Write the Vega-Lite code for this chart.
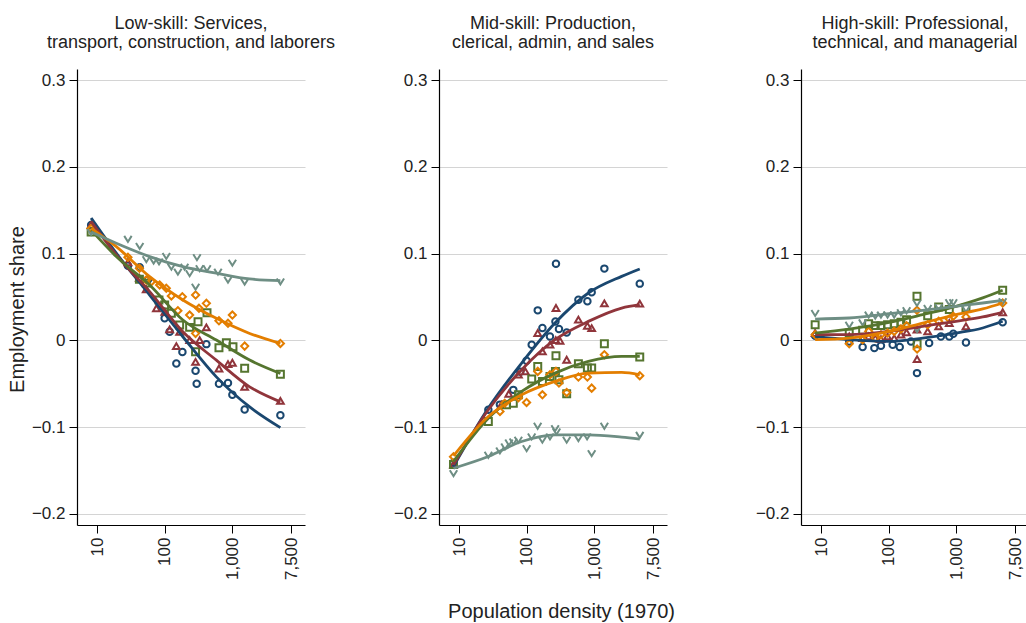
{
  "$schema": "https://vega.github.io/schema/vega-lite/v6.json",
  "padding": {"left": 7, "top": 15, "right": 5, "bottom": 2},
  "background": "white",
  "bounds": "flush",
  "spacing": 134,
  "datasets": {
    "pts": [
      {"p":1,"s":"s1","x":8.1,"y":0.133},{"p":1,"s":"s1","x":28.4,"y":0.086},{"p":1,"s":"s1","x":42.4,"y":0.0843},{"p":1,"s":"s1","x":56,"y":0.07},{"p":1,"s":"s1","x":99.3,"y":0.0254},{"p":1,"s":"s1","x":117.8,"y":0.0099},{"p":1,"s":"s1","x":148,"y":-0.0266},{"p":1,"s":"s1","x":182,"y":-0.0135},{"p":1,"s":"s1","x":285,"y":-0.035},{"p":1,"s":"s1","x":296,"y":-0.05},{"p":1,"s":"s1","x":412,"y":-0.0043},{"p":1,"s":"s1","x":633,"y":-0.05},{"p":1,"s":"s1","x":861,"y":-0.049},{"p":1,"s":"s1","x":1000,"y":-0.0626},{"p":1,"s":"s1","x":1520,"y":-0.0797},{"p":1,"s":"s1","x":5140,"y":-0.0862},
      {"p":1,"s":"s2","x":8.1,"y":0.133},{"p":1,"s":"s2","x":28.4,"y":0.09},{"p":1,"s":"s2","x":42,"y":0.072},{"p":1,"s":"s2","x":53,"y":0.0589},{"p":1,"s":"s2","x":75,"y":0.037},{"p":1,"s":"s2","x":100,"y":0.033},{"p":1,"s":"s2","x":117.8,"y":0.0127},{"p":1,"s":"s2","x":148,"y":-0.0066},{"p":1,"s":"s2","x":165.6,"y":0.0099},{"p":1,"s":"s2","x":232.8,"y":0.0003},{"p":1,"s":"s2","x":285,"y":-0.0247},{"p":1,"s":"s2","x":328,"y":0.0003},{"p":1,"s":"s2","x":412,"y":0.015},{"p":1,"s":"s2","x":633,"y":-0.0324},{"p":1,"s":"s2","x":861,"y":-0.0274},{"p":1,"s":"s2","x":1000,"y":-0.0258},{"p":1,"s":"s2","x":1520,"y":-0.0535},{"p":1,"s":"s2","x":5140,"y":-0.0697},
      {"p":1,"s":"s3","x":8.1,"y":0.125},{"p":1,"s":"s3","x":42,"y":0.0704},{"p":1,"s":"s3","x":53,"y":0.066},{"p":1,"s":"s3","x":81.8,"y":0.0465},{"p":1,"s":"s3","x":99.3,"y":0.0408},{"p":1,"s":"s3","x":124.8,"y":0.0312},{"p":1,"s":"s3","x":165.6,"y":0.0177},{"p":1,"s":"s3","x":232.8,"y":0.015},{"p":1,"s":"s3","x":285,"y":-0.0131},{"p":1,"s":"s3","x":310,"y":0.0215},{"p":1,"s":"s3","x":421,"y":0.0319},{"p":1,"s":"s3","x":633,"y":-0.0085},{"p":1,"s":"s3","x":815,"y":-0.0028},{"p":1,"s":"s3","x":1021,"y":-0.0074},{"p":1,"s":"s3","x":1520,"y":-0.032},{"p":1,"s":"s3","x":5140,"y":-0.0389},
      {"p":1,"s":"s4","x":8.1,"y":0.129},{"p":1,"s":"s4","x":28.4,"y":0.0958},{"p":1,"s":"s4","x":42,"y":0.083},{"p":1,"s":"s4","x":53,"y":0.0696},{"p":1,"s":"s4","x":63.1,"y":0.0677},{"p":1,"s":"s4","x":83.8,"y":0.0639},{"p":1,"s":"s4","x":105,"y":0.06},{"p":1,"s":"s4","x":124.8,"y":0.0512},{"p":1,"s":"s4","x":156,"y":0.0342},{"p":1,"s":"s4","x":181.5,"y":0.0503},{"p":1,"s":"s4","x":232.8,"y":0.0292},{"p":1,"s":"s4","x":285.5,"y":0.0523},{"p":1,"s":"s4","x":285,"y":0.0081},{"p":1,"s":"s4","x":320,"y":0.037},{"p":1,"s":"s4","x":412,"y":0.0427},{"p":1,"s":"s4","x":633,"y":0.0226},{"p":1,"s":"s4","x":861,"y":0.0197},{"p":1,"s":"s4","x":1000,"y":0.0292},{"p":1,"s":"s4","x":1520,"y":-0.0066},{"p":1,"s":"s4","x":5140,"y":-0.0035},
      {"p":1,"s":"s5","x":8.1,"y":0.125},{"p":1,"s":"s5","x":28.4,"y":0.117},{"p":1,"s":"s5","x":42.4,"y":0.1089},{"p":1,"s":"s5","x":53.2,"y":0.0935},{"p":1,"s":"s5","x":68.2,"y":0.0919},{"p":1,"s":"s5","x":82,"y":0.091},{"p":1,"s":"s5","x":105,"y":0.0973},{"p":1,"s":"s5","x":125,"y":0.085},{"p":1,"s":"s5","x":156,"y":0.0792},{"p":1,"s":"s5","x":196,"y":0.085},{"p":1,"s":"s5","x":232.8,"y":0.0774},{"p":1,"s":"s5","x":299,"y":0.0958},{"p":1,"s":"s5","x":285,"y":0.0619},{"p":1,"s":"s5","x":328,"y":0.0831},{"p":1,"s":"s5","x":421,"y":0.0831},{"p":1,"s":"s5","x":612,"y":0.0792},{"p":1,"s":"s5","x":861,"y":0.07},{"p":1,"s":"s5","x":1000,"y":0.0896},{"p":1,"s":"s5","x":1520,"y":0.0677},{"p":1,"s":"s5","x":5140,"y":0.068},

      {"p":2,"s":"s1","x":8.2,"y":-0.141},{"p":2,"s":"s1","x":26.9,"y":-0.08},{"p":2,"s":"s1","x":39.9,"y":-0.074},{"p":2,"s":"s1","x":63,"y":-0.057},{"p":2,"s":"s1","x":80,"y":-0.036},{"p":2,"s":"s1","x":99,"y":-0.0235},{"p":2,"s":"s1","x":118,"y":-0.0049},{"p":2,"s":"s1","x":145,"y":0.0346},{"p":2,"s":"s1","x":170,"y":0.0143},{"p":2,"s":"s1","x":220,"y":0.0046},{"p":2,"s":"s1","x":265,"y":0.0219},{"p":2,"s":"s1","x":270,"y":0.0884},{"p":2,"s":"s1","x":299,"y":0.0131},{"p":2,"s":"s1","x":389,"y":0.0092},{"p":2,"s":"s1","x":580,"y":0.0469},{"p":2,"s":"s1","x":788,"y":0.045},{"p":2,"s":"s1","x":912,"y":0.0554},{"p":2,"s":"s1","x":1406,"y":0.0827},{"p":2,"s":"s1","x":4700,"y":0.0654},
      {"p":2,"s":"s2","x":8.2,"y":-0.143},{"p":2,"s":"s2","x":42,"y":-0.074},{"p":2,"s":"s2","x":54,"y":-0.0615},{"p":2,"s":"s2","x":75,"y":-0.0395},{"p":2,"s":"s2","x":95,"y":-0.0357},{"p":2,"s":"s2","x":145,"y":0.0085},{"p":2,"s":"s2","x":170,"y":-0.0127},{"p":2,"s":"s2","x":220,"y":-0.0049},{"p":2,"s":"s2","x":270,"y":0.0373},{"p":2,"s":"s2","x":268,"y":0.0004},{"p":2,"s":"s2","x":310,"y":-0.0004},{"p":2,"s":"s2","x":389,"y":-0.0223},{"p":2,"s":"s2","x":580,"y":0.0239},{"p":2,"s":"s2","x":788,"y":0.0169},{"p":2,"s":"s2","x":912,"y":0.0142},{"p":2,"s":"s2","x":1406,"y":0.0427},{"p":2,"s":"s2","x":4700,"y":0.0423},
      {"p":2,"s":"s3","x":8.2,"y":-0.143},{"p":2,"s":"s3","x":26.9,"y":-0.0934},{"p":2,"s":"s3","x":50,"y":-0.0742},{"p":2,"s":"s3","x":63,"y":-0.0723},{"p":2,"s":"s3","x":75,"y":-0.0627},{"p":2,"s":"s3","x":118,"y":-0.0446},{"p":2,"s":"s3","x":145,"y":-0.03},{"p":2,"s":"s3","x":170,"y":-0.0473},{"p":2,"s":"s3","x":220,"y":-0.0415},{"p":2,"s":"s3","x":265,"y":-0.0357},{"p":2,"s":"s3","x":270,"y":-0.0177},{"p":2,"s":"s3","x":299,"y":-0.0454},{"p":2,"s":"s3","x":389,"y":-0.0615},{"p":2,"s":"s3","x":580,"y":-0.0269},{"p":2,"s":"s3","x":788,"y":-0.0319},{"p":2,"s":"s3","x":912,"y":-0.0319},{"p":2,"s":"s3","x":1406,"y":-0.0038},{"p":2,"s":"s3","x":4700,"y":-0.0192},
      {"p":2,"s":"s4","x":8.2,"y":-0.134},{"p":2,"s":"s4","x":40,"y":-0.0818},{"p":2,"s":"s4","x":47,"y":-0.0723},{"p":2,"s":"s4","x":75,"y":-0.066},{"p":2,"s":"s4","x":99,"y":-0.0715},{"p":2,"s":"s4","x":145,"y":-0.0357},{"p":2,"s":"s4","x":170,"y":-0.0627},{"p":2,"s":"s4","x":220,"y":-0.0396},{"p":2,"s":"s4","x":270,"y":-0.0357},{"p":2,"s":"s4","x":299,"y":-0.0492},{"p":2,"s":"s4","x":389,"y":-0.06},{"p":2,"s":"s4","x":580,"y":-0.0423},{"p":2,"s":"s4","x":788,"y":-0.0423},{"p":2,"s":"s4","x":912,"y":-0.055},{"p":2,"s":"s4","x":1406,"y":-0.0165},{"p":2,"s":"s4","x":4700,"y":-0.0407},
      {"p":2,"s":"s5","x":8.2,"y":-0.153},{"p":2,"s":"s5","x":26.9,"y":-0.1318},{"p":2,"s":"s5","x":39.9,"y":-0.1268},{"p":2,"s":"s5","x":47.4,"y":-0.1222},{"p":2,"s":"s5","x":54.3,"y":-0.1176},{"p":2,"s":"s5","x":63.1,"y":-0.1165},{"p":2,"s":"s5","x":74.8,"y":-0.1145},{"p":2,"s":"s5","x":99.3,"y":-0.1242},{"p":2,"s":"s5","x":117.8,"y":-0.1107},{"p":2,"s":"s5","x":144.5,"y":-0.0984},{"p":2,"s":"s5","x":169.7,"y":-0.1145},{"p":2,"s":"s5","x":220,"y":-0.1107},{"p":2,"s":"s5","x":262,"y":-0.1011},{"p":2,"s":"s5","x":275,"y":-0.1049},{"p":2,"s":"s5","x":389,"y":-0.1145},{"p":2,"s":"s5","x":580,"y":-0.1126},{"p":2,"s":"s5","x":780,"y":-0.1107},{"p":2,"s":"s5","x":912,"y":-0.1299},{"p":2,"s":"s5","x":1406,"y":-0.0984},{"p":2,"s":"s5","x":4700,"y":-0.1088},

      {"p":3,"s":"s1","x":8.1,"y":0.0054},{"p":3,"s":"s1","x":25.9,"y":-0.0012},{"p":3,"s":"s1","x":40.9,"y":-0.0077},{"p":3,"s":"s1","x":61,"y":-0.0089},{"p":3,"s":"s1","x":76.4,"y":-0.0062},{"p":3,"s":"s1","x":114,"y":-0.005},{"p":3,"s":"s1","x":145,"y":-0.0077},{"p":3,"s":"s1","x":213,"y":-0.0012},{"p":3,"s":"s1","x":261,"y":-0.0377},{"p":3,"s":"s1","x":395,"y":-0.0031},{"p":3,"s":"s1","x":590,"y":0.0046},{"p":3,"s":"s1","x":785,"y":0.0046},{"p":3,"s":"s1","x":900,"y":0.0077},{"p":3,"s":"s1","x":1387,"y":-0.0023},{"p":3,"s":"s1","x":4850,"y":0.0208},
      {"p":3,"s":"s2","x":8.1,"y":0.0085},{"p":3,"s":"s2","x":25.9,"y":0.0046},{"p":3,"s":"s2","x":40.9,"y":0.0027},{"p":3,"s":"s2","x":50.2,"y":0.0046},{"p":3,"s":"s2","x":62.9,"y":0.0027},{"p":3,"s":"s2","x":76.4,"y":0.0015},{"p":3,"s":"s2","x":95.7,"y":0.0046},{"p":3,"s":"s2","x":120,"y":0.0027},{"p":3,"s":"s2","x":151,"y":0.0066},{"p":3,"s":"s2","x":183,"y":0.0093},{"p":3,"s":"s2","x":261,"y":0.0124},{"p":3,"s":"s2","x":262,"y":-0.0216},{"p":3,"s":"s2","x":376,"y":0.0104},{"p":3,"s":"s2","x":547,"y":0.0162},{"p":3,"s":"s2","x":785,"y":0.02},{"p":3,"s":"s2","x":1387,"y":0.0162},{"p":3,"s":"s2","x":4850,"y":0.0324},
      {"p":3,"s":"s3","x":8.1,"y":0.018},{"p":3,"s":"s3","x":25.9,"y":0.0085},{"p":3,"s":"s3","x":40.9,"y":0.0116},{"p":3,"s":"s3","x":50.2,"y":0.0193},{"p":3,"s":"s3","x":62.9,"y":0.017},{"p":3,"s":"s3","x":76.4,"y":0.017},{"p":3,"s":"s3","x":95.7,"y":0.018},{"p":3,"s":"s3","x":120,"y":0.0193},{"p":3,"s":"s3","x":151,"y":0.0208},{"p":3,"s":"s3","x":183,"y":0.0239},{"p":3,"s":"s3","x":261,"y":0.0508},{"p":3,"s":"s3","x":262,"y":-0.0039},{"p":3,"s":"s3","x":376,"y":0.0285},{"p":3,"s":"s3","x":547,"y":0.0385},{"p":3,"s":"s3","x":785,"y":0.0355},{"p":3,"s":"s3","x":1387,"y":0.0374},{"p":3,"s":"s3","x":4850,"y":0.0578},
      {"p":3,"s":"s4","x":8.1,"y":0.0066},{"p":3,"s":"s4","x":25.9,"y":-0.0039},{"p":3,"s":"s4","x":40.9,"y":0.0008},{"p":3,"s":"s4","x":50.2,"y":0.0104},{"p":3,"s":"s4","x":62.9,"y":0.0027},{"p":3,"s":"s4","x":76.4,"y":0.0066},{"p":3,"s":"s4","x":95.7,"y":0.0085},{"p":3,"s":"s4","x":120,"y":0.0104},{"p":3,"s":"s4","x":151,"y":0.0131},{"p":3,"s":"s4","x":183,"y":0.017},{"p":3,"s":"s4","x":261,"y":0.0347},{"p":3,"s":"s4","x":262,"y":-0.01},{"p":3,"s":"s4","x":376,"y":0.0181},{"p":3,"s":"s4","x":547,"y":0.022},{"p":3,"s":"s4","x":785,"y":0.0246},{"p":3,"s":"s4","x":900,"y":0.0277},{"p":3,"s":"s4","x":1387,"y":0.027},{"p":3,"s":"s4","x":4850,"y":0.0431},
      {"p":3,"s":"s5","x":8.1,"y":0.0316},{"p":3,"s":"s5","x":25.9,"y":0.018},{"p":3,"s":"s5","x":40.9,"y":0.0208},{"p":3,"s":"s5","x":50.2,"y":0.0297},{"p":3,"s":"s5","x":62.9,"y":0.0285},{"p":3,"s":"s5","x":76.4,"y":0.0297},{"p":3,"s":"s5","x":95.7,"y":0.0297},{"p":3,"s":"s5","x":120,"y":0.0297},{"p":3,"s":"s5","x":151,"y":0.0324},{"p":3,"s":"s5","x":183,"y":0.0347},{"p":3,"s":"s5","x":261,"y":0.0431},{"p":3,"s":"s5","x":262,"y":0.013},{"p":3,"s":"s5","x":376,"y":0.0374},{"p":3,"s":"s5","x":547,"y":0.0385},{"p":3,"s":"s5","x":785,"y":0.0439},{"p":3,"s":"s5","x":900,"y":0.0439},{"p":3,"s":"s5","x":1387,"y":0.0362},{"p":3,"s":"s5","x":4850,"y":0.0451}
    ],
    "fit": [
      {"p":1,"s":"s1","x":8.1,"y":0.141},{"p":1,"s":"s1","x":19.1,"y":0.1005},{"p":1,"s":"s1","x":59.6,"y":0.0523},{"p":1,"s":"s1","x":185,"y":0.0042},{"p":1,"s":"s1","x":579,"y":-0.042},{"p":1,"s":"s1","x":1803,"y":-0.0767},{"p":1,"s":"s1","x":5140,"y":-0.1005},
      {"p":1,"s":"s2","x":8.1,"y":0.137},{"p":1,"s":"s2","x":19.1,"y":0.0985},{"p":1,"s":"s2","x":59.6,"y":0.0562},{"p":1,"s":"s2","x":185,"y":0.01},{"p":1,"s":"s2","x":579,"y":-0.0228},{"p":1,"s":"s2","x":1803,"y":-0.0535},{"p":1,"s":"s2","x":5140,"y":-0.0708},
      {"p":1,"s":"s3","x":8.1,"y":0.127},{"p":1,"s":"s3","x":19.1,"y":0.0966},{"p":1,"s":"s3","x":59.6,"y":0.0638},{"p":1,"s":"s3","x":185,"y":0.0235},{"p":1,"s":"s3","x":579,"y":0.0004},{"p":1,"s":"s3","x":1803,"y":-0.0227},{"p":1,"s":"s3","x":5140,"y":-0.0381},
      {"p":1,"s":"s4","x":8.1,"y":0.129},{"p":1,"s":"s4","x":19.1,"y":0.108},{"p":1,"s":"s4","x":59.6,"y":0.0735},{"p":1,"s":"s4","x":185,"y":0.0466},{"p":1,"s":"s4","x":579,"y":0.0254},{"p":1,"s":"s4","x":1803,"y":0.008},{"p":1,"s":"s4","x":5140,"y":-0.0035},
      {"p":1,"s":"s5","x":8.1,"y":0.125},{"p":1,"s":"s5","x":19.1,"y":0.112},{"p":1,"s":"s5","x":59.6,"y":0.0966},{"p":1,"s":"s5","x":185,"y":0.085},{"p":1,"s":"s5","x":579,"y":0.0774},{"p":1,"s":"s5","x":1803,"y":0.0708},{"p":1,"s":"s5","x":5140,"y":0.0689},
      {"p":2,"s":"s1","x":8.2,"y":-0.1454},{"p":2,"s":"s1","x":26.9,"y":-0.078},{"p":2,"s":"s1","x":83.8,"y":-0.0261},{"p":2,"s":"s1","x":261,"y":0.02},{"p":2,"s":"s1","x":815,"y":0.0546},{"p":2,"s":"s1","x":2535,"y":0.0738},{"p":2,"s":"s1","x":4700,"y":0.0823},
      {"p":2,"s":"s2","x":8.2,"y":-0.1434},{"p":2,"s":"s2","x":26.9,"y":-0.0799},{"p":2,"s":"s2","x":83.8,"y":-0.0338},{"p":2,"s":"s2","x":261,"y":0.0008},{"p":2,"s":"s2","x":815,"y":0.0219},{"p":2,"s":"s2","x":2535,"y":0.0373},{"p":2,"s":"s2","x":4700,"y":0.0412},
      {"p":2,"s":"s3","x":8.2,"y":-0.1395},{"p":2,"s":"s3","x":26.9,"y":-0.0896},{"p":2,"s":"s3","x":83.8,"y":-0.0588},{"p":2,"s":"s3","x":261,"y":-0.0377},{"p":2,"s":"s3","x":815,"y":-0.0242},{"p":2,"s":"s3","x":2535,"y":-0.0184},{"p":2,"s":"s3","x":4700,"y":-0.0184},
      {"p":2,"s":"s4","x":8.2,"y":-0.133},{"p":2,"s":"s4","x":26.9,"y":-0.0876},{"p":2,"s":"s4","x":83.8,"y":-0.0627},{"p":2,"s":"s4","x":261,"y":-0.0473},{"p":2,"s":"s4","x":815,"y":-0.0377},{"p":2,"s":"s4","x":2535,"y":-0.0369},{"p":2,"s":"s4","x":4700,"y":-0.0396},
      {"p":2,"s":"s5","x":8.2,"y":-0.1473},{"p":2,"s":"s5","x":26.9,"y":-0.1338},{"p":2,"s":"s5","x":83.8,"y":-0.1165},{"p":2,"s":"s5","x":261,"y":-0.1088},{"p":2,"s":"s5","x":815,"y":-0.1088},{"p":2,"s":"s5","x":2535,"y":-0.1115},{"p":2,"s":"s5","x":4700,"y":-0.1138},
      {"p":3,"s":"s1","x":8.1,"y":0.0046},{"p":3,"s":"s1","x":25.9,"y":0.0008},{"p":3,"s":"s1","x":101,"y":-0.0012},{"p":3,"s":"s1","x":316,"y":0.0027},{"p":3,"s":"s1","x":986,"y":0.0085},{"p":3,"s":"s1","x":2454,"y":0.0143},{"p":3,"s":"s1","x":4850,"y":0.022},
      {"p":3,"s":"s2","x":8.1,"y":0.0066},{"p":3,"s":"s2","x":25.9,"y":0.0066},{"p":3,"s":"s2","x":101,"y":0.0104},{"p":3,"s":"s2","x":316,"y":0.0162},{"p":3,"s":"s2","x":986,"y":0.022},{"p":3,"s":"s2","x":2454,"y":0.027},{"p":3,"s":"s2","x":4850,"y":0.0324},
      {"p":3,"s":"s3","x":8.1,"y":0.0085},{"p":3,"s":"s3","x":25.9,"y":0.0131},{"p":3,"s":"s3","x":101,"y":0.0208},{"p":3,"s":"s3","x":316,"y":0.0297},{"p":3,"s":"s3","x":986,"y":0.0393},{"p":3,"s":"s3","x":2454,"y":0.049},{"p":3,"s":"s3","x":4850,"y":0.0578},
      {"p":3,"s":"s4","x":8.1,"y":0.0008},{"p":3,"s":"s4","x":25.9,"y":0.0027},{"p":3,"s":"s4","x":101,"y":0.0104},{"p":3,"s":"s4","x":316,"y":0.02},{"p":3,"s":"s4","x":986,"y":0.0297},{"p":3,"s":"s4","x":2454,"y":0.0362},{"p":3,"s":"s4","x":4850,"y":0.0431},
      {"p":3,"s":"s5","x":8.1,"y":0.0246},{"p":3,"s":"s5","x":25.9,"y":0.0258},{"p":3,"s":"s5","x":101,"y":0.0308},{"p":3,"s":"s5","x":316,"y":0.0347},{"p":3,"s":"s5","x":986,"y":0.0393},{"p":3,"s":"s5","x":2454,"y":0.0431},{"p":3,"s":"s5","x":4850,"y":0.0462}
    ]
  },
  "hconcat": [
    {
      "width": 228, "height": 456,
      "title": {"text": ["Low-skill: Services,", "transport, construction, and laborers"]},
      "layer": [
        {
          "data": {"name": "pts"},
          "transform": [{"filter": "datum.p == 1"}],
          "mark": {"type": "point", "filled": false, "strokeWidth": 2, "opacity": 1},
          "encoding": {
            "x": {"field": "x", "type": "quantitative", "scale": {"type": "log", "domain": [5, 11900], "nice": false}, "axis": {"values": [10, 100, 1000, 7500], "format": ",", "labelAngle": -90, "grid": false, "title": null}},
            "y": {"field": "y", "type": "quantitative", "scale": {"domain": [-0.2127, 0.3127], "nice": false, "zero": false}, "axis": {"values": [-0.2, -0.1, 0, 0.1, 0.2, 0.3], "format": "~g", "title": "Employment share", "titlePadding": 4, "titleY": 240}},
            "color": {"field": "s", "type": "nominal", "scale": {"domain": ["s1", "s2", "s3", "s4", "s5"], "range": ["#1a476f", "#90353b", "#55752f", "#e37e00", "#6e8e84"]}, "legend": null},
            "shape": {"field": "s", "type": "nominal", "scale": {"domain": ["s1", "s2", "s3", "s4", "s5"], "range": ["circle", "triangle-up", "square", "diamond", "M-1,-0.8L0,0.8L1,-0.8"]}, "legend": null},
            "size": {"field": "s", "type": "nominal", "scale": {"domain": ["s1", "s2", "s3", "s4", "s5"], "range": [42, 55, 40, 55, 45]}, "legend": null}
          }
        },
        {
          "data": {"name": "fit"},
          "transform": [{"filter": "datum.p == 1"}],
          "mark": {"type": "line", "interpolate": "monotone", "strokeWidth": 2.8},
          "encoding": {
            "x": {"field": "x", "type": "quantitative"},
            "y": {"field": "y", "type": "quantitative"},
            "color": {"field": "s", "type": "nominal", "legend": null}
          }
        }
      ]
    },
    {
      "width": 228, "height": 456,
      "title": {"text": ["Mid-skill: Production,", "clerical, admin, and sales"]},
      "layer": [
        {
          "data": {"name": "pts"},
          "transform": [{"filter": "datum.p == 2"}],
          "mark": {"type": "point", "filled": false, "strokeWidth": 2, "opacity": 1},
          "encoding": {
            "x": {"field": "x", "type": "quantitative", "scale": {"type": "log", "domain": [5, 11900], "nice": false}, "axis": {"values": [10, 100, 1000, 7500], "format": ",", "labelAngle": -90, "grid": false, "title": "Population density (1970)", "titlePadding": 22, "titleX": 122}},
            "y": {"field": "y", "type": "quantitative", "scale": {"domain": [-0.2127, 0.3127], "nice": false, "zero": false}, "axis": {"values": [-0.2, -0.1, 0, 0.1, 0.2, 0.3], "format": "~g", "title": null}},
            "color": {"field": "s", "type": "nominal", "scale": {"domain": ["s1", "s2", "s3", "s4", "s5"], "range": ["#1a476f", "#90353b", "#55752f", "#e37e00", "#6e8e84"]}, "legend": null},
            "shape": {"field": "s", "type": "nominal", "scale": {"domain": ["s1", "s2", "s3", "s4", "s5"], "range": ["circle", "triangle-up", "square", "diamond", "M-1,-0.8L0,0.8L1,-0.8"]}, "legend": null},
            "size": {"field": "s", "type": "nominal", "scale": {"domain": ["s1", "s2", "s3", "s4", "s5"], "range": [42, 55, 40, 55, 45]}, "legend": null}
          }
        },
        {
          "data": {"name": "fit"},
          "transform": [{"filter": "datum.p == 2"}],
          "mark": {"type": "line", "interpolate": "monotone", "strokeWidth": 2.8},
          "encoding": {
            "x": {"field": "x", "type": "quantitative"},
            "y": {"field": "y", "type": "quantitative"},
            "color": {"field": "s", "type": "nominal", "legend": null}
          }
        }
      ]
    },
    {
      "width": 228, "height": 456,
      "title": {"text": ["High-skill: Professional,", "technical, and managerial"]},
      "layer": [
        {
          "data": {"name": "pts"},
          "transform": [{"filter": "datum.p == 3"}],
          "mark": {"type": "point", "filled": false, "strokeWidth": 2, "opacity": 1},
          "encoding": {
            "x": {"field": "x", "type": "quantitative", "scale": {"type": "log", "domain": [5, 11900], "nice": false}, "axis": {"values": [10, 100, 1000, 7500], "format": ",", "labelAngle": -90, "grid": false, "title": null}},
            "y": {"field": "y", "type": "quantitative", "scale": {"domain": [-0.2127, 0.3127], "nice": false, "zero": false}, "axis": {"values": [-0.2, -0.1, 0, 0.1, 0.2, 0.3], "format": "~g", "title": null}},
            "color": {"field": "s", "type": "nominal", "scale": {"domain": ["s1", "s2", "s3", "s4", "s5"], "range": ["#1a476f", "#90353b", "#55752f", "#e37e00", "#6e8e84"]}, "legend": null},
            "shape": {"field": "s", "type": "nominal", "scale": {"domain": ["s1", "s2", "s3", "s4", "s5"], "range": ["circle", "triangle-up", "square", "diamond", "M-1,-0.8L0,0.8L1,-0.8"]}, "legend": null},
            "size": {"field": "s", "type": "nominal", "scale": {"domain": ["s1", "s2", "s3", "s4", "s5"], "range": [42, 55, 40, 55, 45]}, "legend": null}
          }
        },
        {
          "data": {"name": "fit"},
          "transform": [{"filter": "datum.p == 3"}],
          "mark": {"type": "line", "interpolate": "monotone", "strokeWidth": 2.8},
          "encoding": {
            "x": {"field": "x", "type": "quantitative"},
            "y": {"field": "y", "type": "quantitative"},
            "color": {"field": "s", "type": "nominal", "legend": null}
          }
        }
      ]
    }
  ],
  "config": {
    "font": "Liberation Sans",
    "view": {"stroke": null},
    "axis": {
      "domainColor": "#000000", "domainWidth": 1.2,
      "tickColor": "#000000", "tickSize": 8, "tickWidth": 1,
      "labelFontSize": 17, "labelColor": "#222222", "labelPadding": 4, "labelFlush": false, "labelOverlap": false,
      "titleFontSize": 20, "titleFontWeight": "normal", "titleColor": "#222222",
      "gridColor": "#d4d4d4", "gridWidth": 1.2
    },
    "title": {"fontSize": 18, "fontWeight": "normal", "color": "#222222", "frame": "group", "anchor": "middle", "lineHeight": 19, "offset": 17}
  }
}
